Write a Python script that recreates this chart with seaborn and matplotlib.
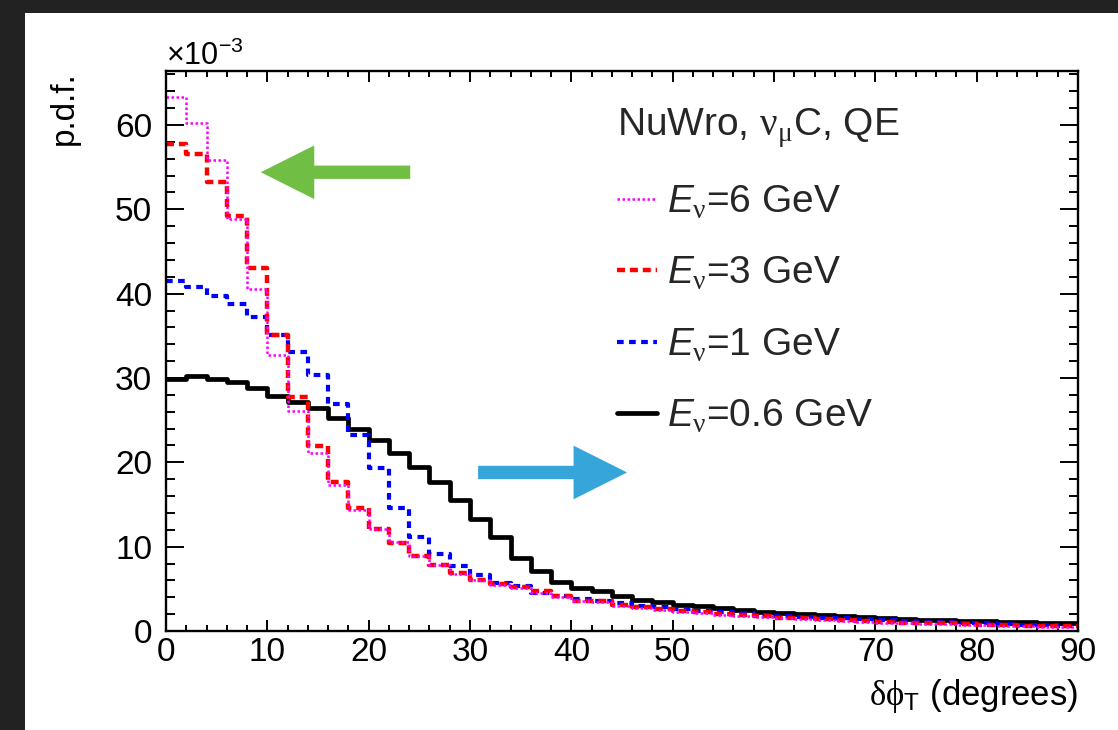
import numpy as np
import pandas as pd
import matplotlib
matplotlib.use('Agg')
import matplotlib.pyplot as plt
import seaborn as sns
from matplotlib.lines import Line2D
from matplotlib.patches import FancyArrow, Rectangle
from matplotlib.ticker import MultipleLocator

# binning in degrees, p.d.f. values in units of 1e-3
bin_edges = np.arange(0, 92, 2)
bin_centers = bin_edges[:-1] + 1

pdf_6gev = [63.3, 60.2, 55.8, 48.8, 40.5, 32.7, 26.1, 21.1, 17.3, 14.4,
            12.1, 10.5, 8.9, 7.8, 6.8, 6.1, 5.5, 5.1, 4.5, 4.0,
            3.6, 3.4, 3.0, 2.7, 2.5, 2.3, 2.1, 1.95, 1.8, 1.65,
            1.5, 1.4, 1.3, 1.2, 1.1, 1.0, 0.95, 0.85, 0.8, 0.75,
            0.7, 0.6, 0.55, 0.5, 0.45]
pdf_3gev = [57.7, 56.6, 53.3, 49.2, 43.1, 35.1, 27.8, 21.9, 17.7, 14.6,
            12.1, 10.4, 8.9, 7.8, 6.9, 6.1, 5.6, 5.2, 4.7, 4.1,
            3.6, 3.5, 3.1, 2.8, 2.6, 2.4, 2.2, 2.05, 1.9, 1.75,
            1.6, 1.5, 1.4, 1.3, 1.2, 1.1, 1.0, 0.95, 0.9, 0.8,
            0.75, 0.7, 0.65, 0.6, 0.55]
pdf_1gev = [41.5, 40.8, 39.7, 38.8, 37.2, 35.1, 33.1, 30.3, 26.9, 23.2,
            19.3, 14.6, 11.2, 9.1, 7.7, 6.6, 5.7, 5.3, 4.5, 4.2,
            3.8, 3.6, 3.3, 3.0, 2.8, 2.6, 2.4, 2.25, 2.1, 1.95,
            1.8, 1.7, 1.6, 1.5, 1.4, 1.3, 1.2, 1.1, 1.05, 0.95,
            0.9, 0.85, 0.75, 0.7, 0.65]
pdf_06gev = [29.9, 30.2, 29.9, 29.5, 28.8, 27.9, 27.2, 26.5, 25.3, 24.0,
             22.6, 21.1, 19.5, 17.7, 15.5, 13.3, 11.1, 8.6, 7.1, 5.8,
             5.1, 4.8, 4.1, 3.7, 3.4, 3.1, 2.95, 2.7, 2.5, 2.3,
             2.1, 2.0, 1.85, 1.75, 1.65, 1.55, 1.45, 1.35, 1.3, 1.2,
             1.15, 1.1, 1.05, 1.0, 0.95]

energy_labels = ['6', '3', '1', '0.6']
header = r'NuWro, $\mathsf{\nu}_{\mathsf{\mu}}$C, QE'

sns.set_theme(style='ticks')
plt.rcParams['font.family'] = ['Liberation Sans', 'DejaVu Sans']
plt.rcParams['mathtext.fontset'] = 'custom'
plt.rcParams['mathtext.rm'] = 'Liberation Sans'
plt.rcParams['mathtext.it'] = 'Liberation Sans:italic'
plt.rcParams['mathtext.bf'] = 'Liberation Sans:bold'
plt.rcParams['mathtext.sf'] = 'Liberation Serif'

fig = plt.figure(figsize=(11.18, 7.30), dpi=100, facecolor='#222222')
fig.patches.append(Rectangle((25 / 1118, 0), 1 - 25 / 1118, 717 / 730,
                             transform=fig.transFigure, facecolor='white',
                             edgecolor='none', zorder=-10))
ax = fig.add_axes([0.1485, 0.1356, 0.8157, 0.7671])

# draw order: 0.6 first, 6 GeV on top
series = [
    (pdf_06gev, 'black', '-', 3.4),
    (pdf_1gev, '#0000ff', (0, (1.6, 1.3)), 3.0),
    (pdf_3gev, '#ff0000', (0, (1.8, 1.1)), 3.2),
    (pdf_6gev, '#ff00ff', (0, (1, 1)), 1.8),
]
for vals, color, ls, lw in series:
    df = pd.DataFrame({'angle': bin_centers, 'pdf': vals})
    sns.histplot(data=df, x='angle', weights='pdf', bins=list(bin_edges),
                 element='step', fill=False, color=color, linestyle=ls,
                 linewidth=lw, ax=ax)

# arrows
ax.add_patch(FancyArrow(24.1, 54.4, -14.75, 0, width=1.58, head_width=6.36,
                        head_length=5.28, length_includes_head=True,
                        color='#70BE44', lw=0))
ax.add_patch(FancyArrow(30.8, 18.8, 14.7, 0, width=1.58, head_width=6.36,
                        head_length=5.28, length_includes_head=True,
                        color='#36A6DA', lw=0))

ax.set_xlim(0, 90)
ax.set_ylim(0, 66.4)
ax.xaxis.set_major_locator(MultipleLocator(10))
ax.xaxis.set_minor_locator(MultipleLocator(2))
ax.yaxis.set_major_locator(MultipleLocator(10))
ax.yaxis.set_minor_locator(MultipleLocator(2))
ax.tick_params(which='both', direction='in', top=True, right=True,
               width=1.4, color='black', labelcolor='black')
ax.tick_params(axis='x', which='major', length=8, pad=4, labelsize=24)
ax.tick_params(axis='x', which='minor', length=4.5)
ax.tick_params(axis='y', which='major', length=12.7, pad=10, labelsize=24)
ax.tick_params(axis='y', which='minor', length=6.5)
for s in ax.spines.values():
    s.set_linewidth(1.7)
    s.set_color('black')

ax.set_ylabel('p.d.f.', fontsize=24, loc='top', color='black')
ax.yaxis.set_label_coords(-0.094, 1.0)
ax.set_xlabel(r'$\mathsf{\delta\phi}_{\mathrm{T}}$ (degrees)', fontsize=25,
              loc='right', color='black')
ax.xaxis.set_label_coords(1.0, -0.132)
ax.xaxis.label.set_va('baseline')
ax.text(0.0, 1.0107, r'$\times$10$^{\mathregular{-3}}$', transform=ax.transAxes,
        fontsize=22, ha='left', va='baseline', color='black')

handles = [Line2D([], [], color=c, linestyle=ls, linewidth=lw)
           for vals, c, ls, lw in reversed(series)]
labels = [r'$\mathit{E}_{\mathsf{\nu}}$=' + e + ' GeV' for e in energy_labels]
ax.legend(handles=handles, labels=labels, title=header, loc='upper left',
          bbox_to_anchor=(0.494, 0.937), frameon=False, fontsize=28,
          title_fontsize=28, handlelength=1.05, handletextpad=0.26,
          labelspacing=0.88, borderpad=0, borderaxespad=0, alignment='left')

fig.savefig('out.png', dpi=100, facecolor=fig.get_facecolor())
